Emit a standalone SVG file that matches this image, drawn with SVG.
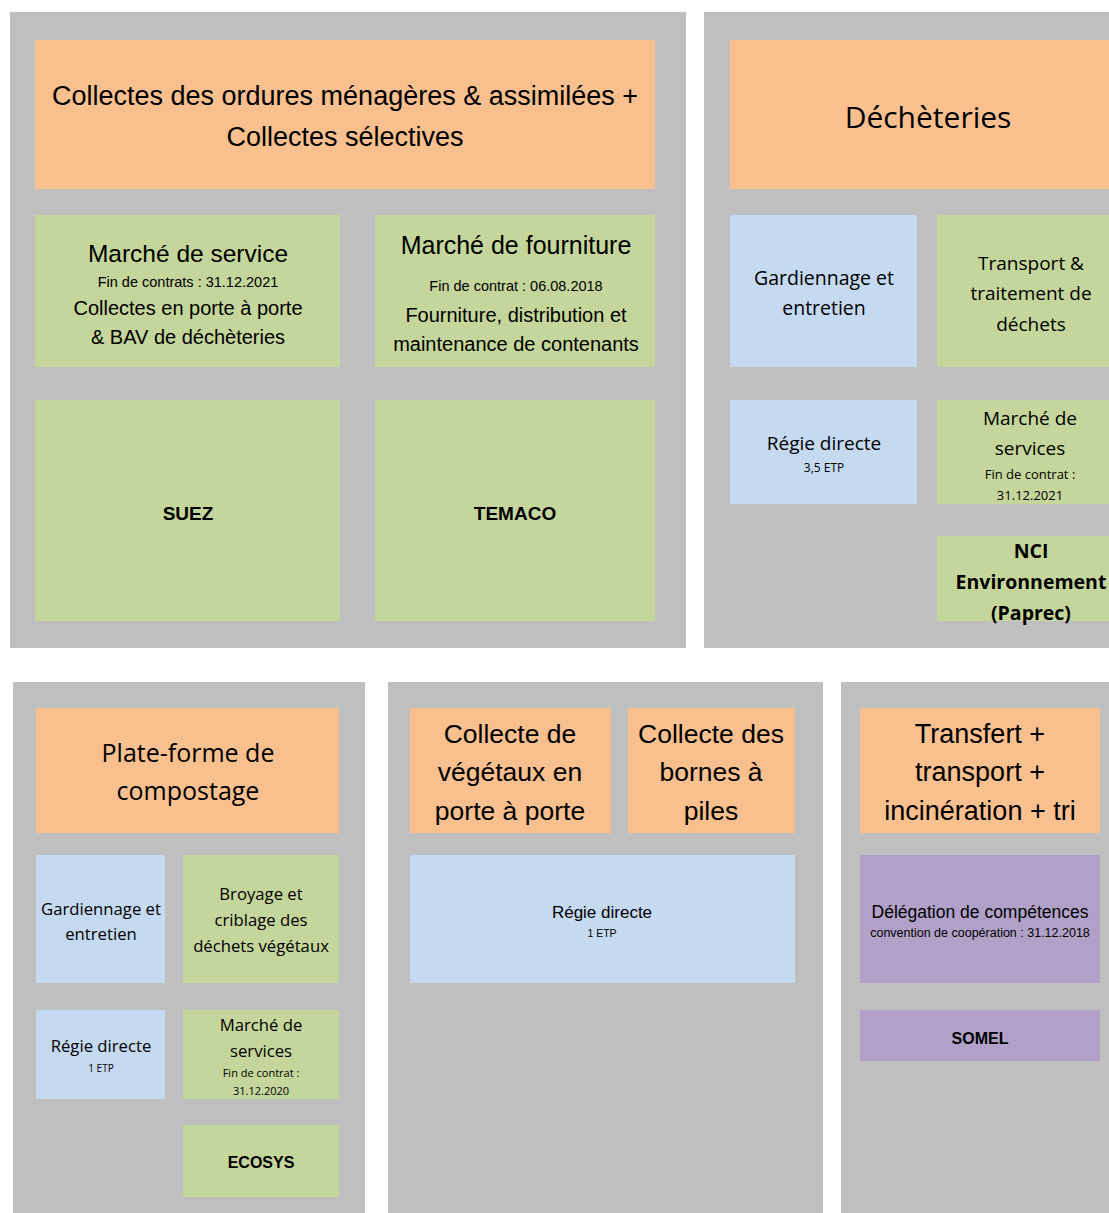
<svg xmlns="http://www.w3.org/2000/svg" width="1109" height="1213" viewBox="0 0 1109 1213">
<style>
.panel{fill:#BFBFBF}
.or{fill:#F8BF8F}
.gr{fill:#C4D69B}
.bl{fill:#C5D9F1}
.pu{fill:#B1A0C7}
text{font-family:"Liberation Sans",Arial,sans-serif;fill:#000;text-anchor:middle}
.os{font-family:"Open Sans","Liberation Sans",sans-serif}
.b{font-weight:bold}
</style>
<rect width="1109" height="1213" fill="#fff"/>
<g id="panel-collectes">
<rect class="panel" x="10" y="12" width="676" height="636"/>
<g id="n-collectes-om">
<rect class="or" x="35" y="40" width="620" height="149"/>
<text x="345" y="105" font-size="27">Collectes des ordures ménagères &amp; assimilées +</text>
<text x="345" y="146" font-size="27">Collectes sélectives</text>
</g>
<g id="n-marche-service">
<rect class="gr" x="35" y="215" width="305" height="152"/>
<text x="188" y="262" font-size="24.5">Marché de service</text>
<text x="188" y="287" font-size="14.5">Fin de contrats : 31.12.2021</text>
<text x="188" y="315" font-size="20">Collectes en porte à porte</text>
<text x="188" y="344" font-size="20">&amp; BAV de déchèteries</text>
</g>
<g id="n-marche-fourniture">
<rect class="gr" x="375" y="215" width="280" height="152"/>
<text x="516" y="254" font-size="25">Marché de fourniture</text>
<text x="516" y="291" font-size="14.5">Fin de contrat : 06.08.2018</text>
<text x="516" y="322" font-size="20">Fourniture, distribution et</text>
<text x="516" y="351" font-size="20">maintenance de contenants</text>
</g>
<g id="n-suez">
<rect class="gr" x="35" y="400" width="305" height="221"/>
<text class="b" x="188" y="520" font-size="19">SUEZ</text>
</g>
<g id="n-temaco">
<rect class="gr" x="375" y="400" width="280" height="221"/>
<text class="b" x="515" y="520" font-size="19">TEMACO</text>
</g>
</g>
<g id="panel-decheteries">
<rect class="panel" x="704" y="12" width="405" height="636"/>
<g id="n-decheteries">
<rect class="or" x="730" y="40" width="379" height="149"/>
<text class="os" x="928" y="128" font-size="30">Déchèteries</text>
</g>
<g id="n-gardiennage-dech">
<rect class="bl" x="730" y="215" width="187" height="152"/>
<text class="os" x="824" y="285" font-size="19.5">Gardiennage et</text>
<text class="os" x="824" y="315" font-size="19.5">entretien</text>
</g>
<g id="n-transport">
<rect class="gr" x="937" y="215" width="172" height="152"/>
<text class="os" x="1031" y="270" font-size="19">Transport &amp;</text>
<text class="os" x="1031" y="300" font-size="19">traitement de</text>
<text class="os" x="1031" y="331" font-size="19">déchets</text>
</g>
<g id="n-regie-dech">
<rect class="bl" x="730" y="400" width="187" height="104"/>
<text class="os" x="824" y="450" font-size="19">Régie directe</text>
<text class="os" x="824" y="472" font-size="12">3,5 ETP</text>
</g>
<g id="n-marche-dech">
<rect class="gr" x="937" y="400" width="172" height="104"/>
<text class="os" x="1030" y="425" font-size="19">Marché de</text>
<text class="os" x="1030" y="455" font-size="19">services</text>
<text class="os" x="1030" y="479" font-size="13">Fin de contrat :</text>
<text class="os" x="1030" y="500" font-size="13">31.12.2021</text>
</g>
<g id="n-nci">
<rect class="gr" x="937" y="536" width="172" height="85"/>
<text class="os b" x="1031" y="558" font-size="19.5">NCI</text>
<text class="os b" x="1031" y="589" font-size="19.5">Environnement</text>
<text class="os b" x="1031" y="620" font-size="19.5">(Paprec)</text>
</g>
</g>
<g id="panel-compostage">
<rect class="panel" x="13" y="682" width="352" height="531"/>
<g id="n-plateforme">
<rect class="or" x="36" y="708" width="303" height="125"/>
<text class="os" x="188" y="762" font-size="25">Plate-forme de</text>
<text class="os" x="188" y="800" font-size="25">compostage</text>
</g>
<g id="n-gardiennage-comp">
<rect class="bl" x="36" y="855" width="129" height="128"/>
<text class="os" x="101" y="915" font-size="16.7">Gardiennage et</text>
<text class="os" x="101" y="940" font-size="16.7">entretien</text>
</g>
<g id="n-broyage">
<rect class="gr" x="183" y="855" width="156" height="128"/>
<text class="os" x="261" y="900" font-size="16.7">Broyage et</text>
<text class="os" x="261" y="926" font-size="16.7">criblage des</text>
<text class="os" x="261" y="952" font-size="16.7">déchets végétaux</text>
</g>
<g id="n-regie-comp">
<rect class="bl" x="36" y="1010" width="129" height="89"/>
<text class="os" x="101" y="1052" font-size="16.7">Régie directe</text>
<text class="os" x="101" y="1072" font-size="10">1 ETP</text>
</g>
<g id="n-marche-comp">
<rect class="gr" x="183" y="1010" width="156" height="89"/>
<text class="os" x="261" y="1031" font-size="16.7">Marché de</text>
<text class="os" x="261" y="1057" font-size="16.7">services</text>
<text class="os" x="261" y="1077" font-size="11">Fin de contrat :</text>
<text class="os" x="261" y="1095" font-size="11">31.12.2020</text>
</g>
<g id="n-ecosys">
<rect class="gr" x="183" y="1125" width="156" height="72"/>
<text class="b" x="261" y="1168" font-size="16">ECOSYS</text>
</g>
</g>
<g id="panel-vegetaux">
<rect class="panel" x="388" y="682" width="435" height="531"/>
<g id="n-collecte-vegetaux">
<rect class="or" x="410" y="708" width="201" height="125"/>
<text x="510" y="743" font-size="26.5">Collecte de</text>
<text x="510" y="781" font-size="26.5">végétaux en</text>
<text x="510" y="820" font-size="26.5">porte à porte</text>
</g>
<g id="n-collecte-piles">
<rect class="or" x="628" y="708" width="167" height="125"/>
<text x="711" y="743" font-size="26.5">Collecte des</text>
<text x="711" y="781" font-size="26.5">bornes à</text>
<text x="711" y="820" font-size="26.5">piles</text>
</g>
<g id="n-regie-veg">
<rect class="bl" x="410" y="855" width="385" height="128"/>
<text x="602" y="918" font-size="17">Régie directe</text>
<text x="602" y="937" font-size="10.5">1 ETP</text>
</g>
</g>
<g id="panel-transfert">
<rect class="panel" x="841" y="682" width="268" height="531"/>
<g id="n-transfert">
<rect class="or" x="860" y="708" width="240" height="125"/>
<text x="980" y="743" font-size="27">Transfert +</text>
<text x="980" y="781" font-size="27">transport +</text>
<text x="980" y="820" font-size="27">incinération + tri</text>
</g>
<g id="n-delegation">
<rect class="pu" x="860" y="855" width="240" height="128"/>
<text x="980" y="918" font-size="17.5">Délégation de compétences</text>
<text x="980" y="937" font-size="12.5">convention de coopération : 31.12.2018</text>
</g>
<g id="n-somel">
<rect class="pu" x="860" y="1010" width="240" height="51"/>
<text class="b" x="980" y="1044" font-size="16">SOMEL</text>
</g>
</g>
<g id="connectors"/>
</svg>
